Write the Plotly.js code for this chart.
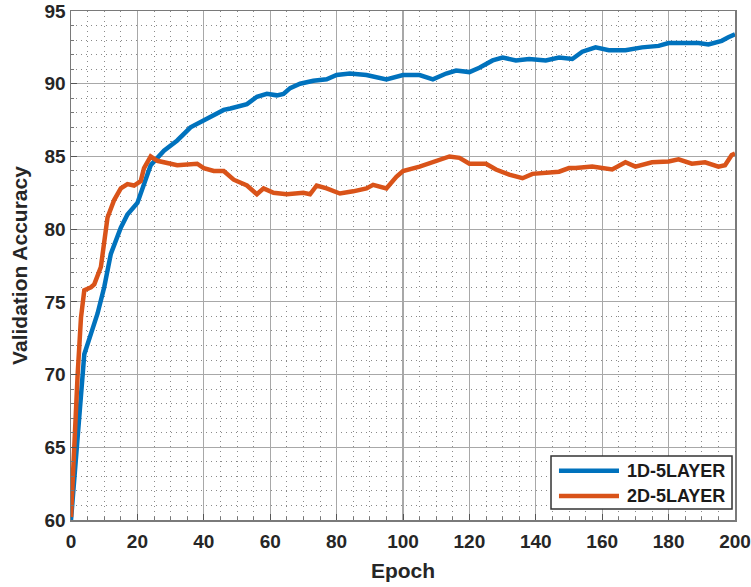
<!DOCTYPE html>
<html>
<head>
<meta charset="utf-8">
<script src="https://cdn.plot.ly/plotly-3.0.1.min.js"></script>
<style>
  html, body { margin: 0; padding: 0; background: #ffffff; }
  #chart { width: 751px; height: 587px; }
</style>
</head>
<body>
<div id="chart"></div>
<script>
// ---- data ----
const seriesNames = ["1D-5LAYER", "2D-5LAYER"];

const epoch1D = [0, 1, 2, 3, 4, 6, 8, 10, 12, 15, 17, 20, 22, 24, 28, 32, 36, 40, 43, 46, 48, 50, 53, 56, 59, 62, 64, 66, 69, 73, 77, 80, 84, 89, 93, 95, 100, 105, 109, 113, 116, 120, 123, 127, 130, 134, 138, 143, 147, 151, 154, 158, 162, 167, 172, 177, 180, 184, 189, 192, 196, 198, 200];
const acc1D = [60, 63, 66.2, 68.6, 71.4, 72.8, 74.2, 76, 78.3, 80.1, 81, 81.8, 83.2, 84.4, 85.4, 86.1, 87.0, 87.5, 87.8, 88.2, 88.3, 88.4, 88.6, 89.1, 89.3, 89.2, 89.3, 89.7, 90.0, 90.2, 90.3, 90.6, 90.7, 90.6, 90.4, 90.3, 90.6, 90.6, 90.3, 90.7, 90.9, 90.8, 91.1, 91.6, 91.8, 91.6, 91.7, 91.6, 91.8, 91.7, 92.2, 92.5, 92.3, 92.3, 92.5, 92.6, 92.8, 92.8, 92.8, 92.7, 92.95, 93.2, 93.4];

const epoch2D = [0, 1, 2, 3, 4, 6, 7, 9, 10, 11, 13, 15, 17, 19, 21, 22, 24, 26, 32, 38, 40, 43, 46, 49, 53, 56, 58, 61, 65, 70, 72, 74, 77, 81, 85, 89, 91, 95, 98, 100, 105, 110, 114, 117, 120, 125, 128, 132, 136, 139, 143, 147, 150, 152, 157, 163, 167, 170, 175, 180, 183, 187, 191, 195, 197, 199, 200];
const acc2D = [60.2, 65.4, 70, 73.9, 75.8, 76, 76.2, 77.4, 79.2, 80.8, 82, 82.8, 83.1, 83, 83.3, 84.2, 85.0, 84.7, 84.4, 84.5, 84.2, 84.0, 84.0, 83.4, 83.0, 82.4, 82.8, 82.5, 82.4, 82.5, 82.4, 83.0, 82.8, 82.45, 82.6, 82.8, 83.05, 82.8, 83.6, 84.0, 84.3, 84.7, 85.0, 84.9, 84.5, 84.5, 84.1, 83.75, 83.5, 83.8, 83.85, 83.95, 84.2, 84.2, 84.3, 84.1, 84.6, 84.3, 84.6, 84.65, 84.8, 84.5, 84.6, 84.3, 84.4, 85.1, 85.2];

const xTickVals = [0, 20, 40, 60, 80, 100, 120, 140, 160, 180, 200];
const yTickVals = [60, 65, 70, 75, 80, 85, 90, 95];

// ---- styles ----
const colors = ["#0072BD", "#D95319"];
const fontFam = "Liberation Sans, Arial, Helvetica, sans-serif";

const traces = [
  { x: epoch1D, y: acc1D, name: seriesNames[0], type: "scatter", mode: "lines",
    line: { color: colors[0], width: 4.5 } },
  { x: epoch2D, y: acc2D, name: seriesNames[1], type: "scatter", mode: "lines",
    line: { color: colors[1], width: 4.5 } }
];

function axisCommon() {
  return {
    showline: true, linecolor: "#7a7a7a", linewidth: 1.5, mirror: true,
    showgrid: true, gridcolor: "#a8a8a8", gridwidth: 1.2,
    zeroline: false,
    ticks: "inside", ticklen: 6, tickwidth: 1, tickcolor: "#555555",
    tickfont: { family: fontFam, size: 19, color: "#262626", weight: "bold" }
  };
}

const xaxis = Object.assign(axisCommon(), {
  range: [0, 200], tickmode: "array", tickvals: xTickVals,
  ticklabelstandoff: 4,
  minor: { dtick: 5, showgrid: true, gridcolor: "#8a8a8a", gridwidth: 1, griddash: "1px,4px",
           ticks: "inside", ticklen: 3, tickcolor: "#777777" },
  title: { text: "<b>Epoch</b>", font: { family: fontFam, size: 21, color: "#262626" }, standoff: 12 }
});
const yaxis = Object.assign(axisCommon(), {
  range: [60, 95], tickmode: "array", tickvals: yTickVals,
  minor: { dtick: 1, showgrid: true, gridcolor: "#8a8a8a", gridwidth: 1, griddash: "1px,4px",
           ticks: "inside", ticklen: 3, tickcolor: "#777777" },
  title: { text: "<b>Validation Accuracy</b>", font: { family: fontFam, size: 21, color: "#262626" }, standoff: 11 }
});

// ---- legend box drawn in paper coordinates (MATLAB-style long line samples) ----
const legBox = { x0: 0.7229, x1: 0.9955, y0: 0.0216, y1: 0.1257 };
const legRows = [0.0969, 0.0472];
const legLineX = [0.7349, 0.8253];
const legTextX = 0.8343;

const shapes = [
  { type: "rect", xref: "paper", yref: "paper", x0: legBox.x0, x1: legBox.x1, y0: legBox.y0, y1: legBox.y1,
    fillcolor: "#ffffff", line: { color: "#333333", width: 1.5 }, layer: "above" }
];
const annotations = [];
seriesNames.forEach(function (nm, i) {
  shapes.push({ type: "line", xref: "paper", yref: "paper", x0: legLineX[0], x1: legLineX[1],
    y0: legRows[i], y1: legRows[i], line: { color: colors[i], width: 4.5 }, layer: "above" });
  annotations.push({ xref: "paper", yref: "paper", x: legTextX, y: legRows[i], xanchor: "left", yanchor: "middle",
    text: "<b>" + nm + "</b>", showarrow: false,
    font: { family: fontFam, size: 18, color: "#1a1a1a" } });
});

const layout = {
  width: 751, height: 587,
  margin: { l: 71, r: 16, t: 11, b: 67 },
  paper_bgcolor: "#ffffff", plot_bgcolor: "#ffffff",
  xaxis: xaxis, yaxis: yaxis,
  showlegend: false,
  shapes: shapes,
  annotations: annotations
};

Plotly.newPlot("chart", traces, layout, { displayModeBar: false, staticPlot: true });
</script>
</body>
</html>
